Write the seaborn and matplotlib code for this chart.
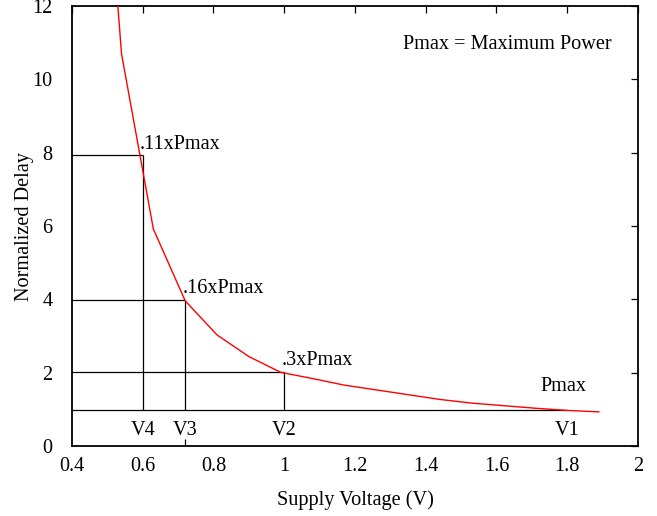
import pandas as pd
import matplotlib
matplotlib.use('Agg')
import matplotlib.pyplot as plt
import seaborn as sns

# curve: supply voltage vs normalized delay
voltage = [0.45, 0.54, 0.63, 0.72, 0.81, 0.90, 0.99, 1.08, 1.17, 1.26,
           1.35, 1.44, 1.53, 1.62, 1.71, 1.80, 1.89]
delay = [22.0, 10.7, 5.92, 3.96, 3.03, 2.44, 2.01, 1.84, 1.66, 1.53,
         1.40, 1.27, 1.17, 1.10, 1.03, 0.97, 0.93]

# operating points
op_names = ['V4', 'V3', 'V2', 'V1']
op_volt = [0.6, 0.72, 1.0, 1.8]
op_delay = [7.93, 3.98, 2.02, 0.98]
op_power = ['.11xPmax', '.16xPmax', '.3xPmax', 'Pmax']

xticks = [0.4, 0.6, 0.8, 1.0, 1.2, 1.4, 1.6, 1.8, 2.0]
xlabels = ['0.4', '0.6', '0.8', '1', '1.2', '1.4', '1.6', '1.8', '2']
yticks = [0, 2, 4, 6, 8, 10, 12]

FS = 14.6

df = pd.DataFrame({'Voltage': voltage, 'Delay': delay})

sns.set_style('white')
plt.rcParams['font.family'] = ['Liberation Serif', 'DejaVu Serif']
plt.rcParams['font.size'] = FS
plt.rcParams['text.color'] = 'black'
plt.rcParams['axes.labelcolor'] = 'black'
plt.rcParams['xtick.color'] = 'black'
plt.rcParams['ytick.color'] = 'black'

fig = plt.figure(figsize=(6.57, 5.16), dpi=100)
ax = fig.add_axes([0.1096, 0.1357, 0.8614, 0.8523])

sns.lineplot(data=df, x='Voltage', y='Delay', color='#ff0000', lw=1.0,
             sort=False, ax=ax, zorder=3)

base = op_delay[-1]
# horizontal line of Pmax level
ax.hlines(base, 0.4, op_volt[-1], color='black', lw=0.9)
for name, v, d, p in zip(op_names, op_volt, op_delay, op_power):
    if name != 'V1':
        ax.hlines(d, 0.4, v, color='black', lw=0.9)
        ax.vlines(v, base, d, color='black', lw=0.9)
        ax.text(v - 0.008, d + 0.05, p, ha='left', va='bottom', fontsize=FS)
    else:
        ax.text(v - 0.012, d + 0.38, p, ha='center', va='bottom', fontsize=FS)
    ax.text(v, 0.41, name, ha='center', va='center', fontsize=FS)

ax.text(1.63, 10.96, 'Pmax = Maximum Power', ha='center', va='center',
        fontsize=FS)

ax.set_xlim(0.4, 2.0)
ax.set_ylim(0, 12)
ax.set_xticks(xticks)
ax.set_xticklabels(xlabels)
ax.set_yticks(yticks)
ax.set_xticks([0.72, 1.0, 1.8], minor=True)
ax.tick_params(axis='both', which='major', direction='in', length=5,
               width=0.9, top=True, right=True, labelsize=FS)
ax.tick_params(axis='x', which='major', pad=8)
ax.tick_params(axis='y', which='major', pad=14)
ax.tick_params(axis='x', which='minor', direction='in', length=5,
               width=0.9, top=False, bottom=True)
for s in ax.spines.values():
    s.set_linewidth(1.3)
    s.set_color('black')

ax.set_xlabel('Supply Voltage (V)', fontsize=FS, labelpad=10)
ax.set_ylabel('Normalized Delay', fontsize=FS, labelpad=-1.5)

fig.savefig('out.png', dpi=100)
